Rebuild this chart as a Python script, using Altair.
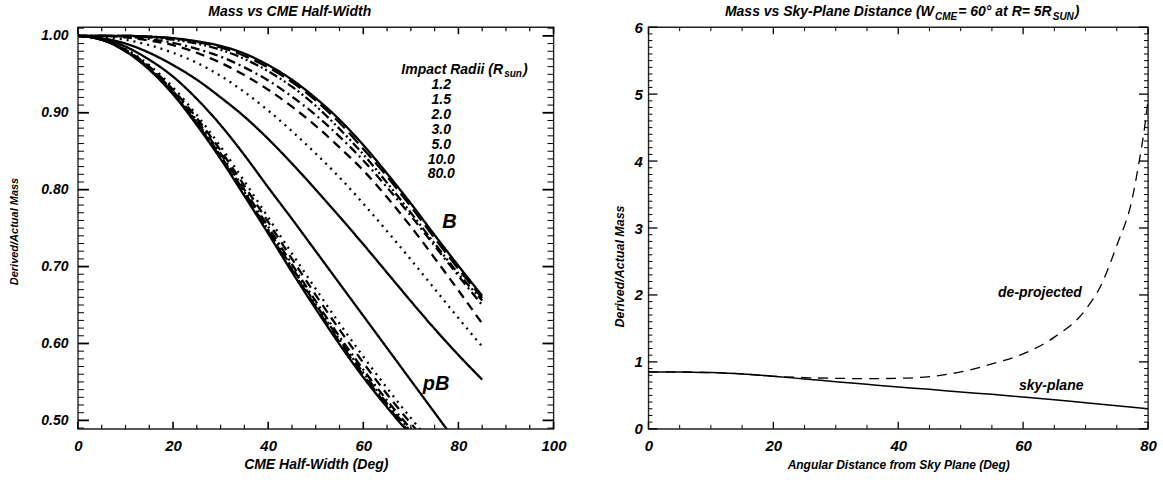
import altair as alt
import pandas as pd

FONT = "Liberation Sans"

# ---------------------------------------------------------------- left panel data
half_width_B = [0, 5, 10, 15, 20, 25, 30, 35, 40, 45, 50, 55, 60, 65, 70, 75, 80, 85]
half_width_pB = [0, 5, 10, 15, 20, 25, 30, 35, 40, 45, 50, 55, 60, 65, 70, 75, 80]
radii = ["1.2", "1.5", "2.0", "3.0", "5.0", "10.0", "80.0"]
radius_style = ["solid", "dotted", "dashed", "dashdot", "dashdotdot", "longdash", "solid"]

B_1p2 = [1.000, 0.997, 0.990, 0.978, 0.962, 0.943, 0.920, 0.895, 0.866, 0.834, 0.800, 0.765, 0.729, 0.692, 0.655, 0.619, 0.585, 0.553]
B_1p5 = [1.000, 0.999, 0.995, 0.988, 0.978, 0.965, 0.948, 0.927, 0.903, 0.876, 0.847, 0.816, 0.782, 0.746, 0.709, 0.671, 0.633, 0.596]
B_2p0 = [1.000, 1.000, 0.998, 0.994, 0.988, 0.978, 0.965, 0.949, 0.930, 0.908, 0.883, 0.855, 0.825, 0.790, 0.752, 0.711, 0.669, 0.626]
B_3p0 = [1.000, 1.000, 0.999, 0.996, 0.991, 0.983, 0.973, 0.959, 0.942, 0.921, 0.897, 0.869, 0.838, 0.803, 0.766, 0.727, 0.688, 0.650]
B_5p0 = [1.000, 1.000, 1.000, 0.998, 0.995, 0.990, 0.982, 0.970, 0.954, 0.934, 0.909, 0.879, 0.846, 0.809, 0.770, 0.730, 0.691, 0.656]
B_10p0 = [1.000, 1.000, 1.000, 0.999, 0.997, 0.992, 0.985, 0.974, 0.959, 0.940, 0.916, 0.887, 0.853, 0.817, 0.778, 0.737, 0.697, 0.659]
B_80p0 = [1.000, 1.000, 1.000, 0.999, 0.997, 0.993, 0.987, 0.977, 0.962, 0.943, 0.919, 0.891, 0.858, 0.821, 0.782, 0.741, 0.701, 0.662]

pB_1p2 = [1.000, 0.996, 0.986, 0.969, 0.947, 0.918, 0.884, 0.845, 0.803, 0.762, 0.720, 0.678, 0.636, 0.594, 0.552, 0.510, 0.468]
pB_1p5 = [1.000, 0.995, 0.983, 0.962, 0.933, 0.897, 0.856, 0.811, 0.764, 0.717, 0.671, 0.626, 0.583, 0.542, 0.503, 0.467, 0.434]
pB_2p0 = [1.000, 0.995, 0.982, 0.960, 0.930, 0.893, 0.851, 0.805, 0.758, 0.710, 0.663, 0.618, 0.575, 0.534, 0.496, 0.461, 0.430]
pB_3p0 = [1.000, 0.995, 0.981, 0.959, 0.928, 0.890, 0.847, 0.800, 0.752, 0.703, 0.655, 0.609, 0.566, 0.526, 0.489, 0.456, 0.428]
pB_5p0 = [1.000, 0.995, 0.981, 0.958, 0.926, 0.888, 0.844, 0.797, 0.748, 0.699, 0.651, 0.605, 0.562, 0.522, 0.486, 0.455, 0.427]
pB_10p0 = [1.000, 0.995, 0.980, 0.957, 0.925, 0.886, 0.842, 0.795, 0.746, 0.696, 0.648, 0.602, 0.559, 0.519, 0.483, 0.452, 0.424]
pB_80p0 = [1.000, 0.995, 0.980, 0.956, 0.924, 0.884, 0.840, 0.792, 0.743, 0.693, 0.645, 0.599, 0.556, 0.517, 0.481, 0.450, 0.422]

legend_label_y = [0.936, 0.917, 0.897, 0.878, 0.858, 0.839, 0.821]

left_x_major = [0, 20, 40, 60, 80, 100]
left_x_minor = [v for v in range(0, 101, 5) if v % 20]
left_y_major = [0.5, 0.6, 0.7, 0.8, 0.9, 1.0]
left_y_minor = [round(0.49 + 0.01 * i, 2) for i in range(53) if (49 + i) % 10]

# ---------------------------------------------------------------- right panel data
sky_angle = [0, 5, 10, 15, 20, 25, 30, 35, 40, 45, 50, 55, 60, 65, 70, 75, 80]
sky_plane = [0.85, 0.85, 0.84, 0.82, 0.785, 0.745, 0.705, 0.665, 0.625, 0.59, 0.55, 0.515, 0.475, 0.435, 0.39, 0.345, 0.30]
deproj_angle = [0, 5, 10, 15, 20, 25, 30, 35, 40, 45, 50, 55, 60, 65, 70, 72.5, 75, 77.5, 78.5, 79.3, 80]
deprojected = [0.85, 0.85, 0.84, 0.82, 0.785, 0.765, 0.755, 0.75, 0.755, 0.78, 0.85, 0.97, 1.12, 1.37, 1.78, 2.15, 2.74, 3.45, 3.95, 4.4, 4.9]

right_x_major = [0, 20, 40, 60, 80]
right_x_minor = [v for v in range(0, 81, 5) if v % 20]
right_y_major = [0, 1, 2, 3, 4, 5, 6]
right_y_minor = [round(0.1 * i, 1) for i in range(61) if i % 10]

# ---------------------------------------------------------------- helpers
HB = {' ': 278, '(': 333, ')': 333, '-': 333, '.': 278, '/': 278, '=': 584, '°': 400,
      'A': 722, 'B': 722, 'C': 722, 'D': 722, 'E': 667, 'H': 722, 'I': 278, 'M': 833,
      'N': 722, 'P': 667, 'R': 722, 'S': 667, 'U': 722, 'W': 944,
      'a': 556, 'c': 556, 'd': 611, 'e': 556, 'f': 333, 'g': 611, 'h': 611, 'i': 278,
      'j': 278, 'k': 556, 'l': 278, 'm': 889, 'n': 611, 'o': 611, 'p': 611, 'r': 389,
      's': 556, 't': 333, 'u': 611, 'v': 556, 'y': 556}


def tw(s, size):
    return sum(HB.get(c, 556) for c in s) * size / 1000.0


TXT = dict(font=FONT, fontStyle="italic", fontWeight="bold", color="black")
AX = dict(labelFont=FONT, labelFontStyle="italic", labelFontWeight="bold", labelColor="black",
          titleFont=FONT, titleFontStyle="italic", titleFontWeight="bold", titleColor="black",
          ticks=False, domain=False, grid=False, labelFlush=False, labelOverlap=False)

LW, LH = 476, 402
RW, RH = 500, 402

dash_domain = ["solid", "dotted", "dashed", "dashdot", "dashdotdot", "longdash"]
dash_range = [[1, 0], [2, 5], [9, 6], [9, 4, 2, 4], [9, 3, 2, 3, 2, 3], [14, 6]]

rows = []
for r, st, ys in zip(radii, radius_style, [B_1p2, B_1p5, B_2p0, B_3p0, B_5p0, B_10p0, B_80p0]):
    for x, y in zip(half_width_B, ys):
        rows.append({"x": x, "y": y, "series": "B " + r, "style": st})
for r, st, ys in zip(radii, radius_style, [pB_1p2, pB_1p5, pB_2p0, pB_3p0, pB_5p0, pB_10p0, pB_80p0]):
    for x, y in zip(half_width_pB, ys):
        rows.append({"x": x, "y": y, "series": "pB " + r, "style": st})
left_df = pd.DataFrame(rows)

lx = alt.Scale(domain=[0, 100], nice=False, zero=False)
ly = alt.Scale(domain=[0.489, 1.0113], nice=False, zero=False)

left_lines = alt.Chart(left_df).mark_line(
    clip=True, color="black", strokeWidth=2.3, interpolate="monotone"
).encode(
    x=alt.X("x:Q", scale=lx, axis=alt.Axis(
        values=left_x_major, format="d", title="CME Half-Width (Deg)", labelPadding=10,
        labelFontSize=15, titleFontSize=14, titleY=36, titleBaseline="middle", **AX)),
    y=alt.Y("y:Q", scale=ly, axis=alt.Axis(
        values=left_y_major, format=".2f", title="Derived/Actual Mass", labelPadding=10,
        labelFontSize=14, titleFontSize=11, titleX=-63, titleY=204,
        titleBaseline="middle", titleAngle=-90, **AX)),
    detail="series:N",
    strokeDash=alt.StrokeDash("style:N", scale=alt.Scale(domain=dash_domain, range=dash_range), legend=None),
    order="x:Q",
)


def xticks(vals, h, length, sw):
    d = pd.DataFrame({"x": vals})
    bottom = alt.Chart(d).mark_rule(color="black", strokeWidth=sw).encode(
        x="x:Q", y=alt.value(h), y2=alt.value(h - length))
    top = alt.Chart(d).mark_rule(color="black", strokeWidth=sw).encode(
        x="x:Q", y=alt.value(0), y2=alt.value(length))
    return [bottom, top]


def yticks(vals, w, length, sw):
    d = pd.DataFrame({"y": vals})
    left = alt.Chart(d).mark_rule(color="black", strokeWidth=sw).encode(
        y="y:Q", x=alt.value(0), x2=alt.value(length))
    right = alt.Chart(d).mark_rule(color="black", strokeWidth=sw).encode(
        y="y:Q", x=alt.value(w), x2=alt.value(w - length))
    return [left, right]


left_ticks = (xticks(left_x_major, LH, 7, 1.6) + xticks(left_x_minor, LH, 4, 1.2)
              + yticks(left_y_major, LW, 11, 1.8) + yticks(left_y_minor, LW, 6, 1.0))

leg_df = pd.DataFrame({"x": [76.4] * len(radii), "y": legend_label_y, "t": radii})
leg_nums = alt.Chart(leg_df).mark_text(fontSize=14, align="center", baseline="middle", **TXT).encode(
    x="x:Q", y="y:Q", text="t:N")

head1, head2, head3 = "Impact Radii (R", "sun", ")"
head_df = pd.DataFrame({"x": [68.0], "y": [0.9555]})
head_a = alt.Chart(head_df).mark_text(text=head1, fontSize=14, align="left", baseline="middle", **TXT).encode(x="x:Q", y="y:Q")
head_b = alt.Chart(head_df).mark_text(text=head2, fontSize=10, align="left", baseline="middle",
                                      dx=tw(head1, 14) + 1, dy=4, **TXT).encode(x="x:Q", y="y:Q")
head_c = alt.Chart(head_df).mark_text(text=head3, fontSize=14, align="left", baseline="middle",
                                      dx=tw(head1, 14) + tw(head2, 10) + 2, **TXT).encode(x="x:Q", y="y:Q")

curve_lbl_df = pd.DataFrame({"x": [78.1, 75.3], "y": [0.758, 0.547], "t": ["B", "pB"]})
curve_lbls = alt.Chart(curve_lbl_df).mark_text(fontSize=20, align="center", baseline="middle", **TXT).encode(
    x="x:Q", y="y:Q", text="t:N")

title_l = alt.Chart(pd.DataFrame({"t": ["Mass vs CME Half-Width"]})).mark_text(
    fontSize=14, align="center", baseline="alphabetic", **TXT).encode(
    text="t:N", x=alt.value(212), y=alt.value(-11))

left = alt.layer(left_lines, *left_ticks, leg_nums, head_a, head_b, head_c, curve_lbls, title_l).properties(
    width=LW, height=LH)

# ---------------------------------------------------------------- right panel
rx = alt.Scale(domain=[0, 80], nice=False, zero=False)
ry = alt.Scale(domain=[0, 6], nice=False, zero=False)

sky_df = pd.DataFrame({"x": sky_angle, "y": sky_plane})
dep_df = pd.DataFrame({"x": deproj_angle, "y": deprojected})

sky_line = alt.Chart(sky_df).mark_line(clip=True, color="black", strokeWidth=1.5, interpolate="monotone").encode(
    x=alt.X("x:Q", scale=rx, axis=alt.Axis(
        values=right_x_major, format="d", title="Angular Distance from Sky Plane (Deg)", labelPadding=10,
        labelFontSize=15, titleFontSize=12, titleY=36, titleBaseline="middle", **AX)),
    y=alt.Y("y:Q", scale=ry, axis=alt.Axis(
        values=right_y_major, format="d", title="Derived/Actual Mass", labelPadding=6,
        labelFontSize=15, titleFontSize=12.5, titleX=-29, titleY=239,
        titleBaseline="middle", titleAngle=-90, **AX)),
    order="x:Q",
)
dep_line = alt.Chart(dep_df).mark_line(clip=True, color="black", strokeWidth=1.3, strokeDash=[10, 7],
                                       interpolate="monotone").encode(
    x=alt.X("x:Q", scale=rx), y=alt.Y("y:Q", scale=ry), order="x:Q")

right_ticks = (xticks(right_x_major, RH, 7, 1.3) + xticks(right_x_minor, RH, 4, 1.0)
               + yticks(right_y_major, RW, 9, 1.3) + yticks(right_y_minor, RW, 4, 1.0))

rl_df = pd.DataFrame({"x": [62.7, 64.5], "y": [2.03, 0.64], "t": ["de-projected", "sky-plane"]})
right_lbls = alt.Chart(rl_df).mark_text(fontSize=14, align="center", baseline="middle", **TXT).encode(
    x="x:Q", y="y:Q", text="t:N")

pieces = [("Mass vs Sky-Plane Distance (W", 14, 0), ("CME", 10, 4), ("= 60° at R= 5R", 14, 0),
          ("SUN", 10, 4), (")", 14, 0)]
total = sum(tw(s, f) for s, f, _ in pieces)
cursor = RW / 2 + 2 - total / 2
title_r = []
for s, f, dy in pieces:
    title_r.append(alt.Chart(pd.DataFrame({"t": [s]})).mark_text(
        fontSize=f, align="left", baseline="alphabetic", **TXT).encode(
        text="t:N", x=alt.value(cursor), y=alt.value(-11 + dy)))
    cursor += tw(s, f) + 1

right = alt.layer(sky_line, dep_line, *right_ticks, right_lbls, *title_r).properties(width=RW, height=RH)

chart = alt.hconcat(left, right, spacing=95, bounds="flush").properties(
    padding={"left": 8, "top": 4, "right": 5, "bottom": 5}
).configure(background="white").configure_view(stroke="#222", strokeWidth=1.4)

chart.save("out.html", embed_options={"renderer": "svg", "actions": False})
